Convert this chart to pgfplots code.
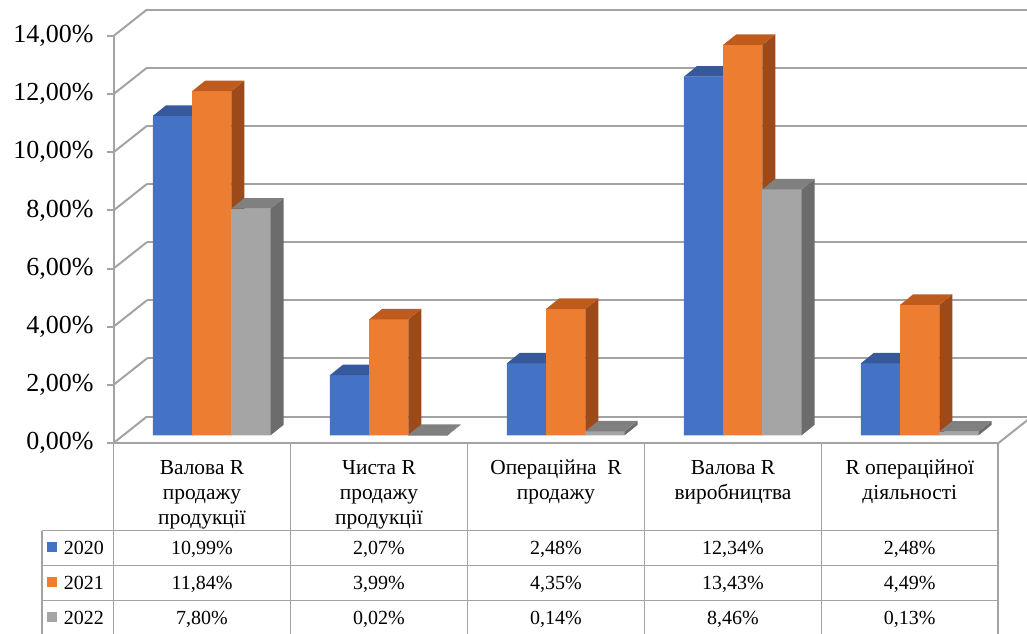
\documentclass[border=0pt]{standalone}
\usepackage{pgfplots}
\usepackage{pgfplotstable}
\pgfplotsset{compat=1.18}
\usepackage{fontspec}
\setmainfont{Liberation Serif}
\definecolor{c20}{HTML}{4472C4}
\definecolor{c20t}{HTML}{35599B}
\definecolor{c20s}{HTML}{2C4C86}
\definecolor{c21}{HTML}{ED7D31}
\definecolor{c21t}{HTML}{BE5B1D}
\definecolor{c21s}{HTML}{9C4A19}
\definecolor{c22}{HTML}{A5A5A5}
\definecolor{c22t}{HTML}{808080}
\definecolor{c22s}{HTML}{6C6C6C}
\definecolor{gl}{HTML}{A3A3A3}
\pgfdeclareplotmark{none3d}{}
\pgfplotstableread{
x  a2020 a2021 a2022
0  10.99 11.84 7.80
1  2.07  3.99  0.02
2  2.48  4.35  0.14
3  12.34 13.43 8.46
4  2.48  4.49  0.13
}\datatable
\pgfplotsset{
  bar3d/.style n args={4}{%
    ybar, bar width=19.6pt, bar shift=0pt,
    fill=#1, draw=none,
    scatter, mark=none3d, point meta=y,
    visualization depends on={\thisrow{#4} \as \yval},
    scatter/@pre marker code/.code={%
      \fill[#1] (-9.8pt,0pt) -- ++(19.6pt,0pt) -- ++(axis direction cs:0,-\yval) -- ++(-19.6pt,0pt) -- cycle;
      \fill[#3] (9.8pt,0pt) -- ++(6.5pt,5.25pt) -- ++(axis direction cs:0,-\yval) -- ++(-6.5pt,-5.25pt) -- cycle;
      \fill[#2] (-9.8pt,0pt) -- ++(19.6pt,0pt) -- ++(6.5pt,5.25pt) -- ++(-19.6pt,0pt) -- cycle;
    },
    scatter/@post marker code/.code={},
  },
}
\begin{document}
\begin{tikzpicture}
\useasboundingbox (0,0) rectangle (513.5pt,-316.5pt);
% back wall gridlines
\begin{axis}[at={(73.5pt,-208.25pt)}, anchor=south west, scale only axis,
  width=442pt, height=203.5pt, xmin=0, xmax=1, ymin=0, ymax=14,
  ytick={0,2,...,14}, xtick=\empty, yticklabels={}, major tick length=0pt,
  ytick style={draw=none},
  axis line style={draw=none}, ymajorgrids, grid style={gl, line width=1pt}]
\end{axis}
% front plane: value axis
\begin{axis}[at={(56.75pt,-221.5pt)}, anchor=south west, scale only axis,
  width=442.5pt, height=203.5pt, xmin=0, xmax=5, ymin=0, ymax=14,
  ytick={0,2,...,14}, xtick=\empty, ytick pos=left,
  axis line style={draw=none}, tick align=outside, major tick length=3.5pt,
  major tick style={gl, line width=1pt},
  /pgf/number format/assume math mode=true,
  yticklabel={\pgfmathprintnumber[fixed,fixed zerofill,precision=2,use comma]{\tick}\%},
  yticklabel style={font=\fontsize{13}{15}\selectfont, xshift=-3pt},
  clip=false]
\draw[gl, line width=1pt] (axis cs:0,0) -- (axis cs:0,14);
\pgfplotsinvokeforeach{0,2,4,6,8,10,12,14}{\draw[gl,line width=1pt] (axis cs:0,#1) -- ++(16.75pt,13.25pt);}
\draw[gl,line width=1pt] (axis cs:5,0) -- ++(16.75pt,13.25pt);
\end{axis}
% bars (middle depth plane)
\begin{axis}[at={(61.6pt,-217.7pt)}, anchor=south west, scale only axis,
  width=442.5pt, height=203.5pt, xmin=-0.5, xmax=4.5, ymin=0, ymax=14,
  hide axis, clip=false]
\addplot[bar3d={c20}{c20t}{c20s}{a2020}] table[x expr=\thisrow{x}-0.2215, y=a2020]{\datatable};
\addplot[bar3d={c21}{c21t}{c21s}{a2021}] table[x=x, y=a2021]{\datatable};
\addplot[bar3d={c22}{c22t}{c22s}{a2022}] table[x expr=\thisrow{x}+0.2215, y=a2022]{\datatable};
\end{axis}
% data table
\begin{scope}[x=0.5pt,y=-0.5pt]
\draw[gl, line width=0.75pt] (113.5,443) -- (998,443);
\foreach \yy in {530.7,565.5,600.5} \draw[gl,line width=0.75pt] (42,\yy) -- (998,\yy);
\draw[gl,line width=0.75pt] (42,530.7) -- (42,640);
\foreach \xx in {113.5,290.5,467.5,644.5,821.5,998} \draw[gl,line width=0.75pt] (\xx,443) -- (\xx,640);
\begin{scope}[every node/.style={font=\fontsize{10.7}{12}\selectfont, inner sep=0pt, anchor=base}]
\node at (202,474) {Валова R};
\node at (202,499) {продажу};
\node at (202,524) {продукції};
\node at (379,474) {Чиста R};
\node at (379,499) {продажу};
\node at (379,524) {продукції};
\node at (556,474) {Операційна\ \ R};
\node at (556,499) {продажу};
\node at (733,474) {Валова R};
\node at (733,499) {виробництва};
\node at (909.75,474) {R операційної};
\node at (909.75,499) {діяльності};
\end{scope}
\begin{scope}[every node/.style={font=\fontsize{10}{12}\selectfont, inner sep=0pt, anchor=base}]
\fill[c20] (47,542) rectangle (57,552);
\fill[c21] (47,577) rectangle (57,587);
\fill[c22] (47,612) rectangle (57,622);
\node[anchor=base west] at (63.5,554.5) {2020};
\node[anchor=base west] at (63.5,589.5) {2021};
\node[anchor=base west] at (63.5,624.5) {2022};
\node at (202,554.5) {10,99\%};
\node at (379,554.5) {2,07\%};
\node at (556,554.5) {2,48\%};
\node at (733,554.5) {12,34\%};
\node at (909.75,554.5) {2,48\%};
\node at (202,589.5) {11,84\%};
\node at (379,589.5) {3,99\%};
\node at (556,589.5) {4,35\%};
\node at (733,589.5) {13,43\%};
\node at (909.75,589.5) {4,49\%};
\node at (202,624.5) {7,80\%};
\node at (379,624.5) {0,02\%};
\node at (556,624.5) {0,14\%};
\node at (733,624.5) {8,46\%};
\node at (909.75,624.5) {0,13\%};
\end{scope}
\end{scope}
\end{tikzpicture}
\end{document}
